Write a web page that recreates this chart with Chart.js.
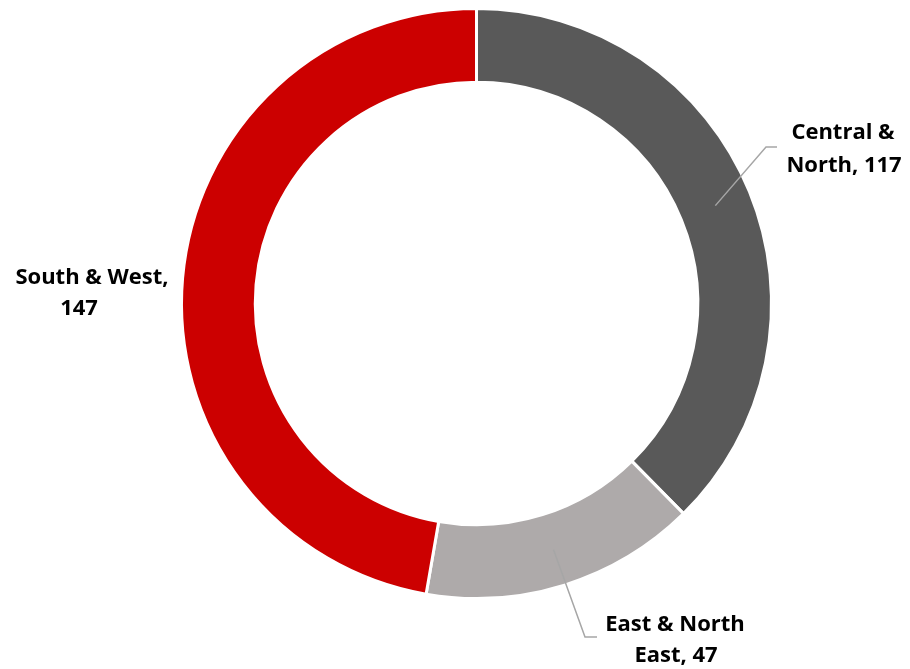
<!DOCTYPE html>
<html>
<head>
<meta charset="utf-8">
<script src="https://cdn.jsdelivr.net/npm/chart.js@4"></script>
<style>
  html, body { margin: 0; padding: 0; background: #ffffff; }
  #wrap { width: 910px; height: 669px; position: relative; }
</style>
</head>
<body>
<div id="wrap"><canvas id="regionChart"></canvas></div>
<script>
// データ
const regions = ['Central & North', 'East & North East', 'South & West'];
const counts = [117, 47, 147];
const sliceColors = ['#595959', '#AEAAAA', '#CC0000'];

// ラベル（2行表示）と配置
const labelLines = [
    ['Central &', 'North, 117'],
    ['East & North', 'East, 47'],
    ['South & West,', '147']
];
const labelSpots = [
    { x: [843, 844], y: [139, 172], leader: [[766, 147], [777, 147]] },
    { x: [675, 676], y: [631, 662], leader: [[585, 637], [597, 637]] },
    { x: [92, 79], y: [284, 315], leader: null }
];

// データラベル＋引き出し線
const labelPlugin = {
    id: 'labelPlugin',
    afterDraw(chart) {
        const ctx = chart.ctx;
        const arcs = chart.getDatasetMeta(0).data;
        ctx.save();
        arcs.forEach((arc, i) => {
            const spot = labelSpots[i];
            if (spot.leader) {
                const p = arc.tooltipPosition();
                ctx.beginPath();
                ctx.moveTo(p.x, p.y);
                spot.leader.forEach(pt => ctx.lineTo(pt[0], pt[1]));
                ctx.strokeStyle = '#A6A6A6';
                ctx.lineWidth = 1.5;
                ctx.stroke();
            }
            ctx.fillStyle = '#000000';
            ctx.font = 'bold 22px "Open Sans"';
            ctx.textAlign = 'center';
            ctx.textBaseline = 'alphabetic';
            labelLines[i].forEach((line, k) => {
                ctx.fillText(line, spot.x[k], spot.y[k]);
            });
        });
        ctx.restore();
    }
};

const ctx = document.getElementById('regionChart').getContext('2d');
new Chart(ctx, {
    type: 'doughnut',
    data: {
        labels: regions,
        datasets: [{
            data: counts,
            backgroundColor: sliceColors,
            borderColor: '#ffffff',
            borderWidth: 3,
            hoverOffset: 0
        }]
    },
    options: {
        responsive: true,
        maintainAspectRatio: false,
        animation: false,
        cutout: '75%',
        layout: { padding: { left: 180, right: 137, top: 7, bottom: 69 } },
        plugins: {
            legend: { display: false },
            tooltip: { enabled: false }
        }
    },
    plugins: [labelPlugin]
});
</script>
</body>
</html>
